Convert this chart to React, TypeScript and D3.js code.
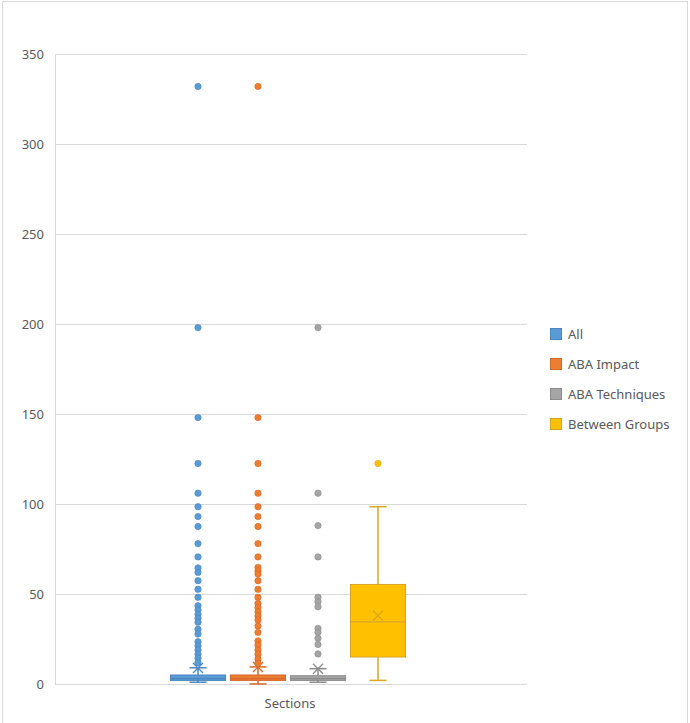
import React from "react";
import * as d3 from "d3";

const categories = ["Sections"];
const seriesNames = ["All", "ABA Impact", "ABA Techniques", "Between Groups"];
const seriesColors = ["#5B9BD5", "#ED7D31", "#A5A5A5", "#FFC000"];
const seriesStroke = ["#4A86C0", "#D4682A", "#8C8C8C", "#D9A520"];
const yTicks = [0, 50, 100, 150, 200, 250, 300, 350];

// box statistics per series: [lowerWhisker, q1, median, q3, upperWhisker, mean]
const statsAll = [1, 2, 3, 5, 9, 8.9];
const statsImpact = [0, 2, 3, 5, 9.5, 9.4];
const statsTechniques = [1, 2, 3, 4.6, 8.5, 8.5];
const statsBetween = [2, 15, 34.5, 55.3, 98.5, 38];

const outliersAll = [332, 198, 148, 122.5, 106, 98.5, 93, 87.5, 78, 70.6, 64.5, 62, 57.4, 52.6, 48.2, 43.5, 41.1, 38.7, 36.5, 34.3, 30.4, 27.8, 23.5, 21.3, 18.9, 16.5, 14.3, 11.8];
const outliersImpact = [332, 148, 122.5, 106, 98.5, 93, 87.5, 78, 70.6, 64.8, 62.9, 61.1, 57.4, 52.6, 48.2, 44.8, 42.6, 40.2, 37.8, 35.6, 32.2, 28.7, 23.9, 21.7, 18.9, 16.5, 13.9, 11.5];
const outliersTechniques = [198, 106, 88, 70.6, 48.2, 45.7, 42.9, 30.9, 28.7, 25.4, 22, 16.7];
const outliersBetween = [122.5];

const allStats = [statsAll, statsImpact, statsTechniques, statsBetween];
const allOutliers = [outliersAll, outliersImpact, outliersTechniques, outliersBetween];

const W = 690;
const H = 723;
const plotLeft = 55;
const plotRight = 527;
const plotTop = 54;
const plotBottom = 684;
const font = "'Noto Sans', 'Open Sans', sans-serif";
const textColor = "#595959";

export default function App() {
  const y = d3.scaleLinear().domain([0, 350]).range([plotBottom, plotTop]);
  const xCat = d3.scaleBand().domain(categories).range([plotLeft, plotRight]);
  const xSeries = d3
    .scaleBand()
    .domain(seriesNames)
    .range([plotLeft - 3, plotRight - 3])
    .paddingInner(0.083)
    .paddingOuter(1.975);
  const bw = xSeries.bandwidth();
  const capHalf = 8.5;
  const xm = 5;

  return (
    <svg
      width={W}
      height={H}
      style={{ position: "absolute", left: 0, top: 0, background: "#fff" }}
      fontFamily={font}
    >
      <rect x={2.5} y={1.5} width={685} height={730} fill="none" stroke="#d9d9d9" strokeWidth={1} />
      {yTicks.map((t) => (
        <g key={t}>
          <line
            x1={plotLeft}
            x2={plotRight}
            y1={Math.round(y(t)) + 0.5}
            y2={Math.round(y(t)) + 0.5}
            stroke="#d9d9d9"
            strokeWidth={1}
          />
          <text
            x={44}
            y={y(t)}
            dy="0.35em"
            textAnchor="end"
            fontSize={13}
            fill={textColor}
          >
            {t}
          </text>
        </g>
      ))}
      <line
        x1={plotLeft + 0.5}
        x2={plotLeft + 0.5}
        y1={plotTop}
        y2={plotBottom}
        stroke="#d9d9d9"
        strokeWidth={1}
      />
      {categories.map((c) => (
        <text
          key={c}
          x={(xCat(c) as number) + xCat.bandwidth() / 2 - 1}
          y={708}
          textAnchor="middle"
          fontSize={13}
          fill={textColor}
        >
          {c}
        </text>
      ))}
      {seriesNames.map((s, i) => {
        const st = allStats[i];
        const x0 = xSeries(s) as number;
        const cx = x0 + bw / 2;
        const col = seriesColors[i];
        const dk = seriesStroke[i];
        const [lo, q1, med, q3, hi, mean] = st;
        return (
          <g key={s}>
            {/* whiskers */}
            <line x1={cx} x2={cx} y1={y(q3)} y2={y(hi)} stroke={dk} strokeWidth={1.5} />
            <line x1={cx} x2={cx} y1={y(q1)} y2={y(lo)} stroke={dk} strokeWidth={1.5} />
            <line x1={cx - capHalf} x2={cx + capHalf} y1={y(hi)} y2={y(hi)} stroke={dk} strokeWidth={1.5} />
            <line x1={cx - capHalf} x2={cx + capHalf} y1={y(lo)} y2={y(lo)} stroke={dk} strokeWidth={1.5} />
            {/* box */}
            <rect
              x={x0}
              y={y(q3)}
              width={bw}
              height={Math.max(y(q1) - y(q3), 1)}
              fill={col}
              stroke={dk}
              strokeWidth={1}
            />
            <line x1={x0} x2={x0 + bw} y1={y(med)} y2={y(med)} stroke={dk} strokeWidth={1.2} />
            {/* mean marker */}
            <path
              d={`M${cx - xm},${y(mean) - xm}L${cx + xm},${y(mean) + xm}M${cx - xm},${y(mean) + xm}L${cx + xm},${y(mean) - xm}`}
              stroke={dk}
              strokeWidth={1.3}
              fill="none"
            />
            {/* outliers */}
            {allOutliers[i].map((v, j) => (
              <circle key={j} cx={cx} cy={y(v)} r={3.2} fill={col} stroke={dk} strokeWidth={0.6} />
            ))}
          </g>
        );
      })}
      {/* legend */}
      {seriesNames.map((s, i) => (
        <g key={s} transform={`translate(550, ${328 + i * 30})`}>
          <rect x={0.5} y={0.5} width={11} height={11} fill={seriesColors[i]} stroke={seriesStroke[i]} strokeWidth={1} />
          <text x={18} y={6} dy="0.35em" fontSize={13} fill={textColor}>
            {s}
          </text>
        </g>
      ))}
    </svg>
  );
}
